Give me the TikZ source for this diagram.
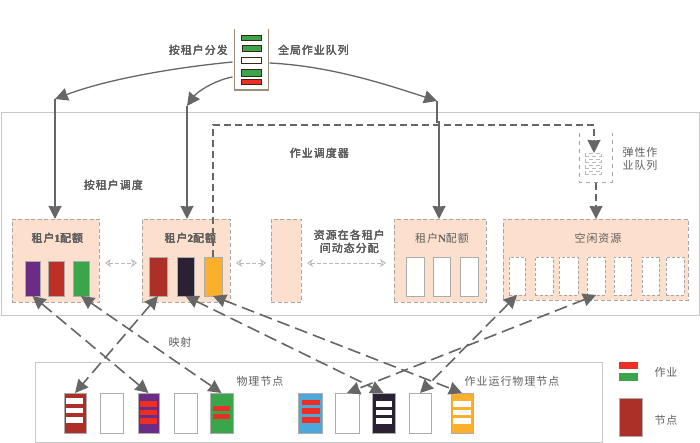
\documentclass[tikz,border=0pt]{standalone}
\usepackage{fontspec}
\usetikzlibrary{arrows.meta}
\setmainfont[LetterSpace=9]{Noto Sans CJK SC}
\newfontfamily\latinf[LetterSpace=0]{Liberation Serif}
\newcommand{\lat}[1]{{\latinf\bfseries #1}}
\definecolor{txt}{HTML}{5E5E5E}
\definecolor{peach}{HTML}{FCDFCC}
\definecolor{lin}{HTML}{666666}
\definecolor{edge}{HTML}{C8C8C8}
\definecolor{cpurple}{HTML}{6A2C85}
\definecolor{cred}{HTML}{BE2F27}
\definecolor{cbrick}{HTML}{AC3027}
\definecolor{cgreen}{HTML}{3AA54A}
\definecolor{cblack}{HTML}{2A2233}
\definecolor{corange}{HTML}{FBB02D}
\definecolor{cblue}{HTML}{4BA8D8}
\definecolor{cbar}{HTML}{EE2E24}
\tikzset{
  box/.style={draw, inner sep=0pt, outer sep=0pt},
  frame/.style={box, draw=edge, line width=1pt},
  quota/.style={box, fill=peach, draw=gray!70, line width=.9pt, dash pattern=on 4pt off 2.5pt},
  bar/.style={box, draw=gray!65, line width=.8pt},
  freebar/.style={box, fill=white, draw=gray!70, line width=.8pt, dash pattern=on 3pt off 2pt},
  qbar/.style={box, draw=black!70!brown, line width=.8pt},
  slot/.style={box, draw=none},
  label/.style={inner sep=0pt, text=txt, font=\fontsize{11}{13}\selectfont, align=center},
  solidarrow/.style={draw=lin, line width=1.7pt, -{Stealth[length=13pt,width=13pt,inset=.5pt]}},
  thinarrow/.style={draw=lin, line width=1.3pt, -{Stealth[length=13pt,width=13pt,inset=.5pt]}},
  dasharrow/.style={draw=lin, line width=1.6pt, dash pattern=on 7pt off 4pt, -{Stealth[length=13pt,width=13pt,inset=.5pt]}},
  maparrow/.style={draw=lin, line width=1.6pt, dash pattern=on 13pt off 6pt, {Stealth[length=13pt,width=13pt,inset=.5pt]}-{Stealth[length=13pt,width=13pt,inset=.5pt]}},
  softarrow/.style={draw=gray!55, line width=.8pt, dash pattern=on 4pt off 2pt, {Stealth[open,length=6pt,width=8pt,fill=white]}-{Stealth[open,length=6pt,width=8pt,fill=white]}},
}
\newcommand{\bx}[6]{\node[#2, minimum width={(#5-#3)*1pt}, minimum height={(#6-#4)*1pt}] (#1) at ({(#3+#5)/2},{(#4+#6)/2}) {};}
\newcommand{\lb}[4]{\node[label] (#1) at (#2,#3) {#4};}
\begin{document}
\begin{tikzpicture}[x=1pt,y=-1pt]
\useasboundingbox (0,0) rectangle (700,443);
% frames
\bx{sched}{frame}{1}{113}{699}{315}
\bx{phys}{frame}{35}{362}{602}{442}
% quota boxes
\bx{qa}{quota}{12}{219}{99}{302}
\bx{qb}{quota}{142}{219}{230}{302}
\bx{qm}{quota}{271}{219}{301}{302}
\bx{qn}{quota}{394}{219}{486}{302}
\bx{qf}{quota}{503}{219}{688}{300}
% tenant bars
\bx{ta}{bar,fill=cpurple}{25}{261}{40}{296}
\bx{tb}{bar,fill=cred}{48}{261}{64}{296}
\bx{tc}{bar,fill=cgreen}{73}{261}{89}{296}
\bx{td}{bar,fill=cbrick}{149}{257}{167}{296}
\bx{te}{bar,fill=cblack}{177}{257}{194}{296}
\bx{tf}{bar,fill=corange}{204}{257}{222}{296}
\bx{tg}{bar,fill=white}{406}{257}{424}{296}
\bx{th}{bar,fill=white}{433}{257}{450}{296}
\bx{ti}{bar,fill=white}{460}{257}{478}{296}
% free slots
\bx{fa}{freebar}{509}{257}{525}{295}
\bx{fb}{freebar}{535}{257}{553}{295}
\bx{fc}{freebar}{559}{257}{578}{295}
\bx{fd}{freebar}{587}{257}{605}{295}
\bx{fe}{freebar}{614}{257}{631}{295}
\bx{ff}{freebar}{642}{257}{659}{295}
\bx{fg}{freebar}{666}{257}{684}{295}
% physical nodes
\bx{na}{bar,fill=cbrick}{64}{393}{86}{433}
\bx{nb}{bar,fill=white}{100}{393}{123}{433}
\bx{nc}{bar,fill=cpurple}{138}{393}{159}{433}
\bx{nd}{bar,fill=white}{174}{393}{197}{433}
\bx{ne}{bar,fill=cgreen}{210}{393}{233}{433}
\bx{nf}{bar,fill=cblue}{298}{393}{322}{433}
\bx{ng}{bar,fill=white}{335}{393}{359}{433}
\bx{nh}{bar,fill=cblack}{372}{393}{395}{433}
\bx{ni}{bar,fill=white}{409}{393}{431}{433}
\bx{nj}{bar,fill=corange}{451}{393}{473}{433}
% jobs in physical nodes
\bx{ja1}{slot,fill=white}{66}{398}{83}{404}
\bx{ja2}{slot,fill=white}{66}{408}{83}{413}
\bx{ja3}{slot,fill=white}{66}{417}{83}{423}
\bx{jc1}{slot,fill=cbar}{140}{401}{157}{407}
\bx{jc2}{slot,fill=cbar}{140}{410}{157}{415}
\bx{jc3}{slot,fill=cbar}{140}{418}{157}{424}
\bx{je1}{slot,fill=cbar}{213}{406}{230}{411}
\bx{je2}{slot,fill=cbar}{213}{414}{230}{419}
\bx{jf1}{slot,fill=cbar}{302}{400}{320}{405}
\bx{jf2}{slot,fill=cbar}{302}{408}{320}{414}
\bx{jf3}{slot,fill=cbar}{302}{417}{320}{423}
\bx{jh1}{slot,fill=white}{376}{401}{392}{407}
\bx{jh2}{slot,fill=white}{376}{410}{392}{415}
\bx{jh3}{slot,fill=white}{376}{418}{392}{424}
\bx{jj1}{slot,fill=white}{453}{401}{471}{407}
\bx{jj2}{slot,fill=white}{453}{410}{471}{415}
\bx{jj3}{slot,fill=white}{453}{418}{471}{424}
% legend
\bx{lja}{slot,fill=cbar}{619}{362}{638}{369}
\bx{ljb}{slot,fill=cgreen}{619}{373}{638}{381}
\bx{lnode}{bar,fill=cbrick}{619}{398}{642}{436}
% global queue
\bx{gq}{slot}{234.7}{29}{268.7}{90}
\draw[draw=black!50!brown!60, line width=1.4pt] (gq.north west) -- (gq.south west) -- (gq.south east) -- (gq.north east);
\bx{g1}{qbar,fill=cgreen}{241}{35}{261}{40.5}
\bx{g2}{qbar,fill=cgreen}{242.5}{45}{261}{51}
\bx{g3}{qbar,fill=white}{241}{57.5}{261}{63.5}
\bx{g4}{qbar,fill=cgreen}{241}{69}{261}{76}
\bx{g5}{qbar,fill=cbar}{241}{79}{261}{84}
% elastic queue
\bx{eq}{slot}{579}{133}{612}{182}
\draw[draw=gray!70, line width=.8pt, dash pattern=on 4pt off 4pt] (eq.north west) -- (eq.south west) -- (eq.south east) -- (eq.north east);
\foreach \n/\y in {1/153,2/159,3/165,4/171}
  \bx{e\n}{slot,draw=gray!55,line width=.5pt,dash pattern=on 4pt off 3pt}{585}{\y}{601}{\y+3.5}
% labels
\lb{l1}{198.4}{50.3}{按租户分发}
\lb{l2}{313.5}{50}{全局作业队列}
\lb{l3}{319.4}{153.3}{作业调度器}
\lb{l4}{113.4}{185.3}{按租户调度}
\lb{l5}{57.4}{238.3}{租户\lat{1}配额}
\lb{l6}{190.4}{238.3}{租户\lat{2}配额}
\node[label] (l7) at (349.4,241.8) {资源在各租户\\间动态分配};
\lb{l8}{442}{238}{租户\lat{N}配额}
\lb{l9}{598}{238}{空闲资源}
\node[label] (l10) at (640,159) {弹性作\\业队列};
\lb{l11}{180}{342}{映射}
\lb{l12}{260}{381}{物理节点}
\lb{l13}{512}{381}{作业运行物理节点}
\lb{l14}{666}{372}{作业}
\lb{l15}{666}{420}{节点}
% free connector ends
\coordinate (c1s) at (232.5,62);
\coordinate (c1e) at (55,99);
\coordinate (c2s) at (232.5,77);
\coordinate (c2e) at (187,106);
\coordinate (c3s) at (269.5,63);
\coordinate (c3e) at (437,101);
\coordinate (j1) at (437,122);
\coordinate (j2) at (439,122);
\coordinate (ct1) at (213,125);
\coordinate (ct2) at (594,125);
\coordinate (etip) at (594,153);
% curved arrows
\draw[thinarrow] (c1s) .. controls (170,68) and (105,80) .. (c1e);
\draw[thinarrow] (c2s) .. controls (215,80) and (197,92) .. (c2e);
\draw[thinarrow] (c3s) .. controls (330,66) and (385,84) .. (c3e);
% vertical arrows
\draw[solidarrow] (c1e) -- (55,219);
\draw[solidarrow] (c2e) -- (187,219);
\draw[solidarrow] (c3e) -- (j1) -- (j2) -- (439,219);
% dashed path
\draw[dasharrow] (tf.north) -- (ct1) -- (ct2) -- (etip);
\draw[dasharrow] (596,183) -- (596,219);
% mapping arrows
\draw[maparrow] (ta.south) -- (nc.north);
\draw[maparrow] (td.south) -- (na.north);
\draw[maparrow] (tc.south) -- (ne.north);
\draw[maparrow] (te.south) -- (nh.north);
\draw[maparrow] (tf.south) -- (nj.north);
\draw[maparrow] (fa.south) -- (ni.north);
\draw[maparrow] (fd.south) -- (ng.north);
% soft arrows
\draw[softarrow] (105,263) -- (137,263);
\draw[softarrow] (236,263) -- (266,263);
\draw[softarrow] (307,263) -- (386,263);
\end{tikzpicture}
\end{document}
